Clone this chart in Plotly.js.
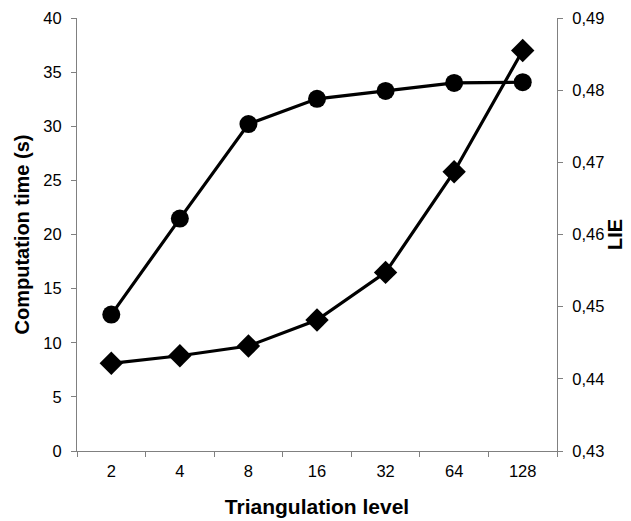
<!DOCTYPE html>
<html>
<head>
<meta charset="utf-8">
<script src="https://cdn.plot.ly/plotly-3.0.1.min.js"></script>
<style>html,body{margin:0;padding:0;background:#fff;}#chart{width:631px;height:521px;}</style>
</head>
<body>
<div id="chart"></div>
<script>
var levels = ["2", "4", "8", "16", "32", "64", "128"];
var computationTime = [8.1, 8.8, 9.7, 12.1, 16.5, 25.8, 37.0];
var lieValues = [0.4489, 0.4622, 0.4753, 0.4788, 0.4799, 0.4810, 0.4811];

var FONT = "Liberation Sans, Arial, sans-serif";
var AX = "#808080";
var TICKSIZE = 16.5;

var traces = [
  {
    x: levels, y: computationTime, type: "scatter", mode: "lines+markers",
    name: "Computation time", yaxis: "y",
    line: {color: "#000", width: 3.2},
    marker: {symbol: "diamond", size: 18, color: "#000"}
  },
  {
    x: levels, y: lieValues, type: "scatter", mode: "lines+markers",
    name: "LIE", yaxis: "y2",
    line: {color: "#000", width: 3.2},
    marker: {symbol: "circle", size: 18, color: "#000"}
  }
];

var layout = {
  width: 631, height: 521,
  margin: {l: 77, r: 74, t: 18, b: 70, pad: 0},
  paper_bgcolor: "#fff", plot_bgcolor: "#fff",
  showlegend: false,
  separators: ",.",
  font: {family: FONT, size: 16, color: "#000"},
  xaxis: {
    type: "category", range: [-0.5, 6.5], tickson: "boundaries",
    showline: true, linecolor: AX, linewidth: 1, mirror: false,
    ticks: "outside", ticklen: 5, tickcolor: AX, showgrid: false, zeroline: false,
    ticklabelstandoff: 5,
    tickfont: {family: FONT, size: TICKSIZE, color: "#000"},
    title: {text: "Triangulation level", font: {family: FONT, size: 21, color: "#000", weight: "bold"}, standoff: 20},
    fixedrange: true
  },
  yaxis: {
    range: [0, 40], dtick: 5, tick0: 0,
    showline: true, linecolor: AX, linewidth: 1,
    ticks: "outside", ticklen: 5, tickcolor: AX, showgrid: false, zeroline: false,
    ticklabelstandoff: 6,
    tickfont: {family: FONT, size: TICKSIZE, color: "#000"},
    title: {text: "Computation time (s)", font: {family: FONT, size: 20, color: "#000", weight: "bold"}, standoff: 8},
    fixedrange: true
  },
  yaxis2: {
    overlaying: "y", side: "right", range: [0.43, 0.49], dtick: 0.01, tick0: 0.43,
    tickformat: ".2f",
    showline: true, linecolor: AX, linewidth: 1,
    ticks: "outside", ticklen: 5, tickcolor: AX, showgrid: false, zeroline: false,
    ticklabelstandoff: 6,
    tickfont: {family: FONT, size: TICKSIZE, color: "#000"},
    title: {text: "LIE", font: {family: FONT, size: 20, color: "#000", weight: "bold"}, standoff: 4},
    fixedrange: true
  },
  yaxis3: {
    overlaying: "y", side: "right", range: [0.43, 0.49], dtick: 0.01, tick0: 0.43,
    showline: false, showticklabels: false,
    ticks: "inside", ticklen: 5, tickcolor: AX, showgrid: false, zeroline: false,
    fixedrange: true
  }
};

Plotly.newPlot("chart", traces, layout, {displayModeBar: false, staticPlot: true});
</script>
</body>
</html>
